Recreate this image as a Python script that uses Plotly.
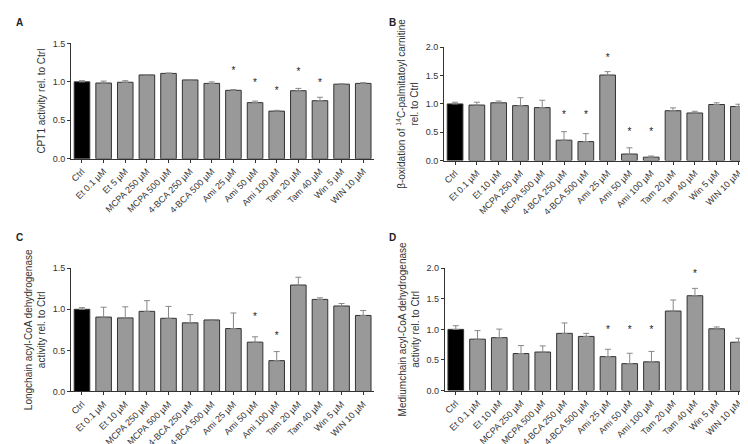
import plotly.graph_objects as go
from plotly.subplots import make_subplots

# category labels
labels_a = ["Ctrl", "Et 0.1 µM", "Et 5 µM", "MCPA 250 µM", "MCPA 500 µM", "4-BCA 250 µM",
            "4-BCA 500 µM", "Ami 25 µM", "Ami 50 µM", "Ami 100 µM", "Tam 20 µM",
            "Tam 40 µM", "Win 5 µM", "WIN 10 µM"]
labels_bcd = ["Ctrl", "Et 0.1 µM", "Et 10 µM", "MCPA 250 µM", "MCPA 500 µM", "4-BCA 250 µM",
              "4-BCA 500 µM", "Ami 25 µM", "Ami 50 µM", "Ami 100 µM", "Tam 20 µM",
              "Tam 40 µM", "Win 5 µM", "WIN 10 µM"]

# A: CPT1 activity
cpt1 = [1.0, 0.985, 0.995, 1.09, 1.11, 1.025, 0.98, 0.89, 0.73, 0.62, 0.885, 0.755, 0.97, 0.98]
cpt1_err = [0.015, 0.025, 0.02, 0.005, 0.005, 0.005, 0.02, 0.01, 0.02, 0.01, 0.03, 0.045, 0.005, 0.01]
cpt1_star = {"Ami 25 µM": 1.13, "Ami 50 µM": 0.98, "Ami 100 µM": 0.87, "Tam 20 µM": 1.12, "Tam 40 µM": 0.98}

# B: beta-oxidation
box = [1.0, 0.98, 1.02, 0.97, 0.935, 0.36, 0.335, 1.51, 0.115, 0.06, 0.88, 0.84, 0.99, 0.955]
box_err = [0.03, 0.05, 0.03, 0.14, 0.13, 0.15, 0.14, 0.06, 0.11, 0.02, 0.05, 0.03, 0.03, 0.04]
box_star = {"4-BCA 250 µM": 0.79, "4-BCA 500 µM": 0.79, "Ami 25 µM": 1.8, "Ami 50 µM": 0.5, "Ami 100 µM": 0.5}

# C: longchain acyl-CoA dehydrogenase
lcad = [1.0, 0.905, 0.895, 0.975, 0.89, 0.835, 0.87, 0.765, 0.6, 0.375, 1.295, 1.12, 1.04, 0.925]
lcad_err = [0.02, 0.12, 0.135, 0.13, 0.145, 0.1, 0.005, 0.19, 0.065, 0.11, 0.095, 0.02, 0.03, 0.06]
lcad_star = {"Ami 50 µM": 0.9, "Ami 100 µM": 0.67}

# D: mediumchain acyl-CoA dehydrogenase
mcad = [1.0, 0.84, 0.865, 0.605, 0.63, 0.935, 0.885, 0.555, 0.44, 0.47, 1.30, 1.55, 1.01, 0.79]
mcad_err = [0.06, 0.14, 0.14, 0.13, 0.1, 0.17, 0.05, 0.12, 0.17, 0.17, 0.18, 0.12, 0.03, 0.065]
mcad_star = {"Ami 25 µM": 0.98, "Ami 50 µM": 0.98, "Ami 100 µM": 0.98, "Tam 40 µM": 1.9}

fig = make_subplots(rows=2, cols=2)

panels = [
    (1, 1, labels_a, cpt1, cpt1_err, cpt1_star, 1.5, 0.5, "CPT1 activity rel. to Ctrl"),
    (1, 2, labels_bcd, box, box_err, box_star, 2.0, 0.5,
     "β-oxidation of <sup>14</sup>C-palmitatoyl carnitine<br>rel. to Ctrl"),
    (2, 1, labels_bcd, lcad, lcad_err, lcad_star, 1.5, 0.5,
     "Longchain acyl-CoA dehydrogenase<br>activity rel. to Ctrl"),
    (2, 2, labels_bcd, mcad, mcad_err, mcad_star, 2.0, 0.5,
     "Mediumchain acyl-CoA dehydrogenase<br>activity rel. to Ctrl"),
]

domains = {
    (1, 1): ([0.082, 0.488], [0.664, 0.930]),
    (1, 2): ([0.582, 0.991], [0.660, 0.921]),
    (2, 1): ([0.082, 0.488], [0.128, 0.412]),
    (2, 2): ([0.583, 0.991], [0.130, 0.412]),
}

for r, c, labels, vals, errs, stars, ymax, dtick, title in panels:
    colors = ["black"] + ["#999999"] * (len(vals) - 1)
    fig.add_trace(go.Bar(
        x=labels, y=vals, marker=dict(color=colors, line=dict(color="#333333", width=1)),
        width=0.72,
        error_y=dict(type="data", array=errs, arrayminus=[0] * len(errs), symmetric=False,
                     color="#888888", thickness=1, width=3),
        showlegend=False, hoverinfo="x+y"), row=r, col=c)
    fig.add_trace(go.Scatter(
        x=list(stars.keys()), y=list(stars.values()), mode="text", text=["*"] * len(stars),
        textfont=dict(size=10, color="#222222"), marker=dict(color="#222222"),
        showlegend=False, hoverinfo="skip"),
        row=r, col=c)
    xd, yd = domains[(r, c)]
    fig.update_xaxes(domain=xd, showline=True, linecolor="#333333", linewidth=1,
                     ticks="outside", ticklen=3, tickangle=-45, tickcolor="#333333",
                     tickfont=dict(size=9, color="#333333"), row=r, col=c)
    fig.update_yaxes(domain=yd, range=[0, ymax], dtick=dtick, tickformat=".1f",
                     showline=True, linecolor="#333333", linewidth=1, showgrid=False,
                     zeroline=False, ticks="outside", ticklen=3, tickcolor="#333333",
                     tickfont=dict(size=9, color="#333333"),
                     title=dict(text=title, font=dict(size=10, color="#333333"), standoff=5),
                     row=r, col=c)

for letter, x, y in [("A", 0.005, 0.995), ("B", 0.505, 0.995), ("C", 0.005, 0.5), ("D", 0.505, 0.5)]:
    fig.add_annotation(text="<b>%s</b>" % letter, x=x, y=y, xref="paper", yref="paper",
                       xanchor="left", yanchor="top", showarrow=False,
                       font=dict(size=10, color="#222222"))

fig.update_layout(
    width=748, height=444, margin=dict(l=0, r=0, t=0, b=0),
    paper_bgcolor="white", plot_bgcolor="white",
    font=dict(family="Arial", color="#333333"), bargap=0.28,
)

fig.write_html("out.html")
